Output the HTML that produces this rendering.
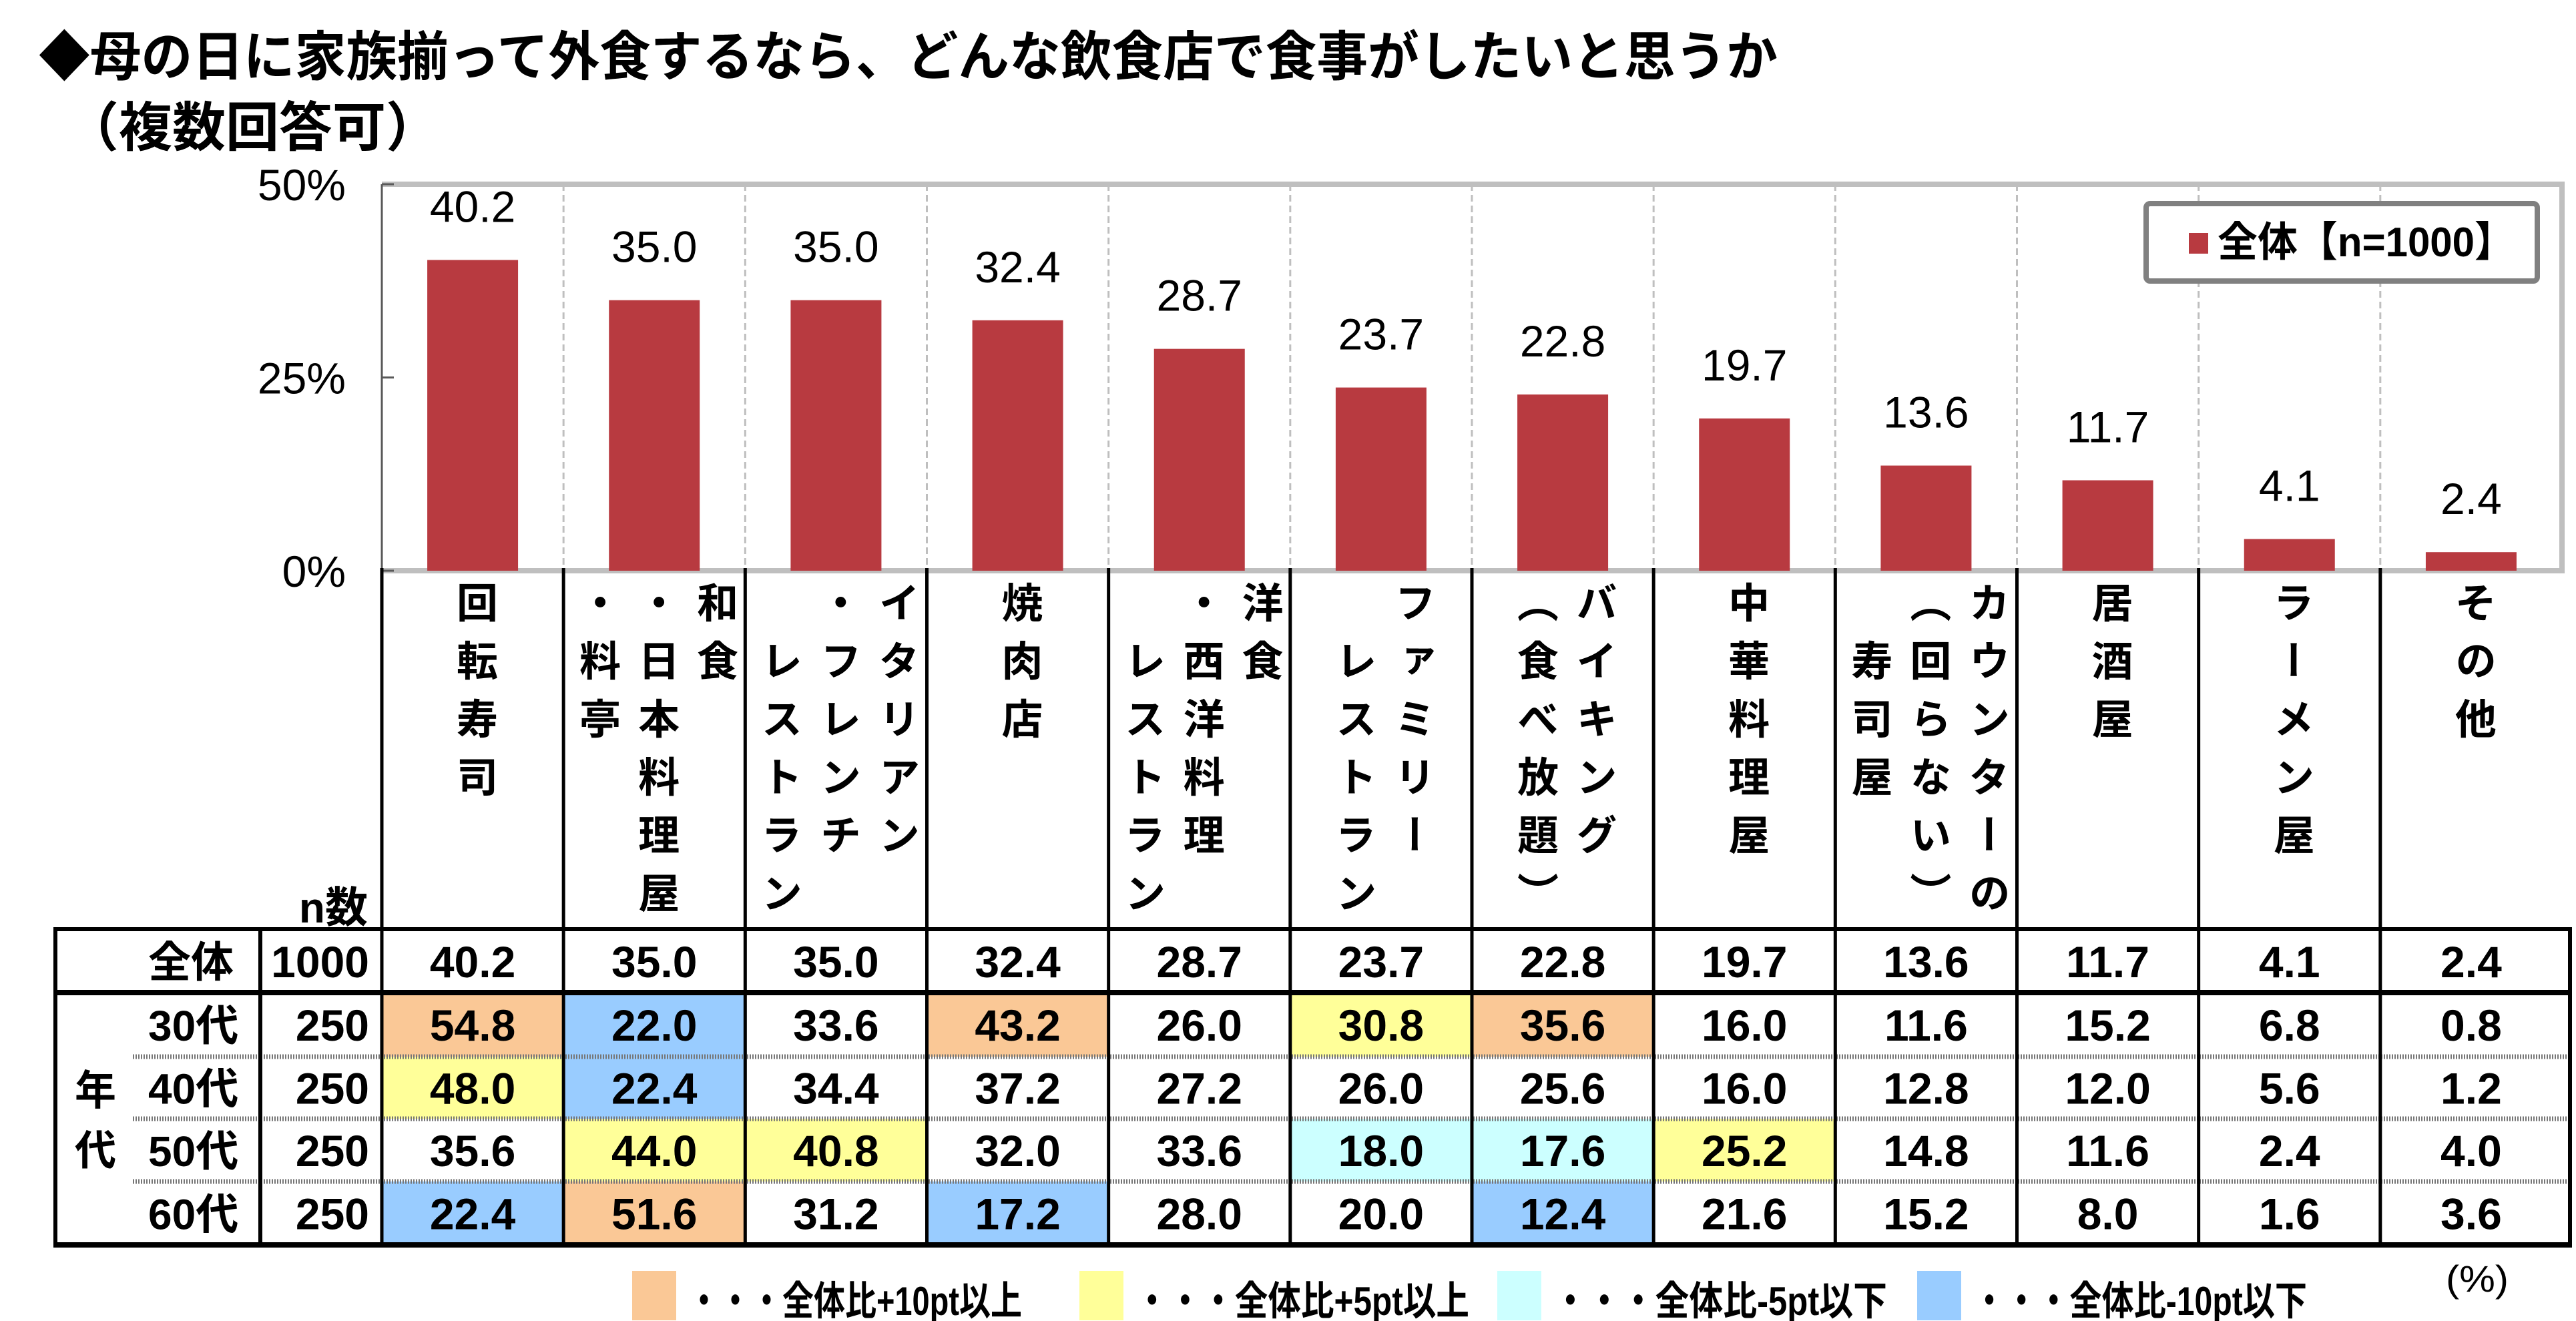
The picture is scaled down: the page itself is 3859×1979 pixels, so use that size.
<!DOCTYPE html>
<html><head><meta charset="utf-8"><style>
body{margin:0;background:#fff;}
#wrap{position:relative;width:3859px;height:1979px;overflow:hidden;font-family:"Liberation Sans","Noto Sans CJK JP",sans-serif;}
svg{position:absolute;left:0;top:0;}
.cat{position:absolute;top:871px;width:272px;display:flex;justify-content:center;}
.cat div{writing-mode:vertical-rl;font-size:62px;font-weight:bold;line-height:88px;letter-spacing:25px;font-family:"Liberation Sans","Noto Sans CJK JP",sans-serif;white-space:nowrap;}
</style></head><body>
<div id="wrap">
<svg id="svg" width="3859" height="1979" xmlns="http://www.w3.org/2000/svg" font-family="Liberation Sans, Noto Sans CJK JP, sans-serif">
<text x="58" y="113" font-size="80" font-weight="bold" textLength="2605" lengthAdjust="spacingAndGlyphs">◆母の日に家族揃って外食するなら、どんな飲食店で食事がしたいと思うか</text>
<text x="98" y="219" font-size="80" font-weight="bold">（複数回答可）</text>
<g id="plot"></g>
<g id="table"></g>
<g>
<rect x="3215" y="305" width="586" height="116" rx="6" fill="#fff" stroke="#808080" stroke-width="8"/>
<rect x="3279" y="349" width="29" height="31" fill="#B83A40"/>
<text x="3322" y="384" font-size="62" font-weight="bold" textLength="445" lengthAdjust="spacingAndGlyphs">全体【n=1000】</text>
</g>
<g id="hlegend"></g>
<text x="3664" y="1935" font-size="56" textLength="94" lengthAdjust="spacingAndGlyphs">(%)</text>
</svg>
</div>
<script>
const categories=[["回転寿司"],["和食","・日本料理屋","・料亭"],["イタリアン","・フレンチ","　レストラン"],["焼肉店"],["洋食","・西洋料理","　レストラン"],["ファミリー","　レストラン"],["バイキング","︵食べ放題︶"],["中華料理屋"],["カウンターの","︵回らない︶","　寿司屋"],["居酒屋"],["ラーメン屋"],["その他"]];
const totals=[40.2,35.0,35.0,32.4,28.7,23.7,22.8,19.7,13.6,11.7,4.1,2.4];
const rowLabels=["30代","40代","50代","60代"];
const rowN=[250,250,250,250];
const age30=[54.8,22.0,33.6,43.2,26.0,30.8,35.6,16.0,11.6,15.2,6.8,0.8];
const age40=[48.0,22.4,34.4,37.2,27.2,26.0,25.6,16.0,12.8,12.0,5.6,1.2];
const age50=[35.6,44.0,40.8,32.0,33.6,18.0,17.6,25.2,14.8,11.6,2.4,4.0];
const age60=[22.4,51.6,31.2,17.2,28.0,20.0,12.4,21.6,15.2,8.0,1.6,3.6];
const yTicks=[0,25,50];
const legendLabels=["・・・全体比+10pt以上","・・・全体比+5pt以上","・・・全体比-5pt以下","・・・全体比-10pt以下"];

const NS="http://www.w3.org/2000/svg";
const svg=document.getElementById('svg');
function el(tag,attrs,parent,txt){const e=document.createElementNS(NS,tag);for(const k in attrs)e.setAttribute(k,attrs[k]);if(txt!==undefined)e.textContent=txt;(parent||svg).appendChild(e);return e;}
const X0=572,X1=3838,Y0=855,Ytop=276,N=categories.length,CW=(X1-X0)/N;
const xc=i=>X0+CW*(i+0.5);
const y=v=>Y0-(v/50)*(Y0-Ytop);
const plot=document.getElementById('plot');
for(let i=1;i<N;i++){const l=el('line',{x1:X0+CW*i,x2:X0+CW*i,y1:Ytop,y2:Y0,stroke:'#BFBFBF','stroke-width':3,'stroke-dasharray':'10 6'},plot);
}
let f=el('path',{d:`M${X0} ${Ytop}H${X1}V${Y0}`,fill:'none',stroke:'#BFBFBF','stroke-width':8},plot);

let ba=el('line',{x1:X0,x2:X1+4,y1:Y0,y2:Y0,stroke:'#BFBFBF','stroke-width':8},plot);

let ya=el('line',{x1:X0,x2:X0,y1:Ytop,y2:Y0,stroke:'#595959','stroke-width':3},plot);

yTicks.forEach(t=>{const tk=el('line',{x1:X0,x2:X0+18,y1:y(t),y2:y(t),stroke:'#595959','stroke-width':3},plot);

const tl=el('text',{x:518,y:y(t)+24,'font-size':66,'text-anchor':'end'},plot,t+'%');
});
totals.forEach((v,i)=>{const b=el('rect',{x:xc(i)-68,y:y(v),width:136,height:Y0-y(v),fill:'#B83A40'},plot);

const t=el('text',{x:xc(i),y:y(v)-57,'font-size':66,'text-anchor':'middle'},plot,v.toFixed(1));
});
const wrap=document.getElementById('wrap');
categories.forEach((c,i)=>{const d=document.createElement('div');d.className='cat';d.style.left=(X0+CW*i)+'px';

const inner=document.createElement('div');inner.innerHTML=c.join('<br>');d.appendChild(inner);wrap.appendChild(d);});
const tb=document.getElementById('table');
const rows=[age30,age40,age50,age60];
const rowY=[1487,1583,1676,1770,1865];
const colors={o:'#FAC896',y:'#FFFF99',c:'#CCFFFF',b:'#99CCFF'};
rows.forEach((r,ri)=>{r.forEach((v,i)=>{const d=v-totals[i];let col=null;
if(d>=10)col=colors.o;else if(d>=5)col=colors.y;else if(d<=-10)col=colors.b;else if(d<=-5)col=colors.c;
if(col){const c=el('rect',{x:X0+CW*i,y:rowY[ri],width:CW,height:rowY[ri+1]-rowY[ri],fill:col},tb);
}
const t=el('text',{x:xc(i),y:(rowY[ri]+rowY[ri+1])/2+24,'font-size':66,'font-weight':'bold','text-anchor':'middle'},tb,v.toFixed(1));
});
const rl=el('text',{x:222,y:(rowY[ri]+rowY[ri+1])/2+24,'font-size':64,'font-weight':'bold'},tb,rowLabels[ri]);

const rn=el('text',{x:553,y:(rowY[ri]+rowY[ri+1])/2+24,'font-size':66,'font-weight':'bold','text-anchor':'end'},tb,rowN[ri]);
});
totals.forEach((v,i)=>{const t=el('text',{x:xc(i),y:1440+24,'font-size':66,'font-weight':'bold','text-anchor':'middle'},tb,v.toFixed(1));
});
let s;
s=el('text',{x:222,y:1464,'font-size':64,'font-weight':'bold'},tb,'全体');
s=el('text',{x:553,y:1464,'font-size':66,'font-weight':'bold','text-anchor':'end'},tb,'1000');
s=el('text',{x:551,y:1382,'font-size':64,'font-weight':'bold','text-anchor':'end'},tb,'n数');
s=el('text',{x:112,y:1655,'font-size':62,'font-weight':'bold'},tb,'年');
s=el('text',{x:112,y:1745,'font-size':62,'font-weight':'bold'},tb,'代');
[1583,1676,1770].forEach(yy=>{const l=el('line',{x1:199,x2:3850,y1:yy,y2:yy,stroke:'#777','stroke-width':7,'stroke-dasharray':'2 2'},tb);
});
for(let i=0;i<=N;i++){const xx=i==N?3850:X0+CW*i;const l=el('line',{x1:xx,x2:xx,y1:i==N?1392:851,y2:1865,stroke:'#000','stroke-width':i==N?6:5},tb);
}
[[83,1392,1865],[390,1392,1865]].forEach(a=>{const l=el('line',{x1:a[0],x2:a[0],y1:a[1],y2:a[2],stroke:'#000','stroke-width':6},tb);
});
[1392,1487,1865].forEach(yy=>{const l=el('line',{x1:80,x2:3853,y1:yy,y2:yy,stroke:'#000','stroke-width':yy==1392?6:8},tb);
});
const hl=document.getElementById('hlegend');
const lx=[947,1617,2243,2872],lc=[colors.o,colors.y,colors.c,colors.b];
legendLabels.forEach((t,i)=>{const r=el('rect',{x:lx[i],y:1904,width:66,height:74,fill:lc[i]},hl);

const tx=el('text',{x:lx[i]+84,y:1970,'font-size':60,'font-weight':'bold',textLength:500,lengthAdjust:'spacingAndGlyphs'},hl,t);
});
</script>
</body></html>
